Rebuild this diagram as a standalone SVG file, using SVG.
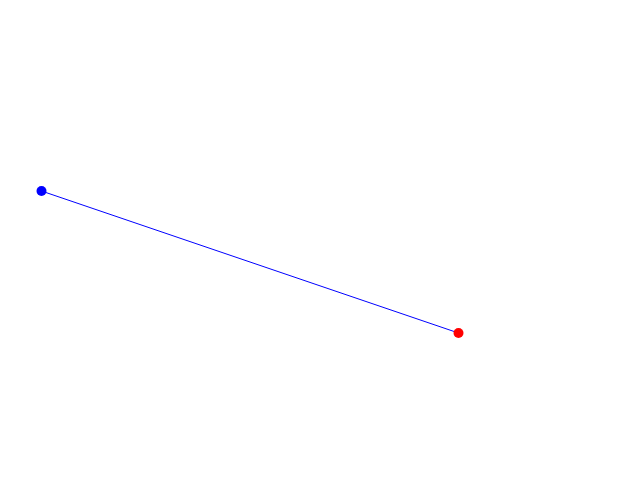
<svg xmlns="http://www.w3.org/2000/svg" width="640" height="480" viewBox="0 0 640 480">
<rect width="640" height="480" fill="#fff"/>
<g id="connectors"><line x1="41.5" y1="191" x2="458.5" y2="333" stroke="#0000ff" stroke-width="1"/></g>
<g id="start"><circle cx="41.5" cy="191" r="5" fill="#0000ff"/></g>
<g id="end"><circle cx="458.5" cy="333" r="5" fill="#ff0000"/></g>
</svg>
